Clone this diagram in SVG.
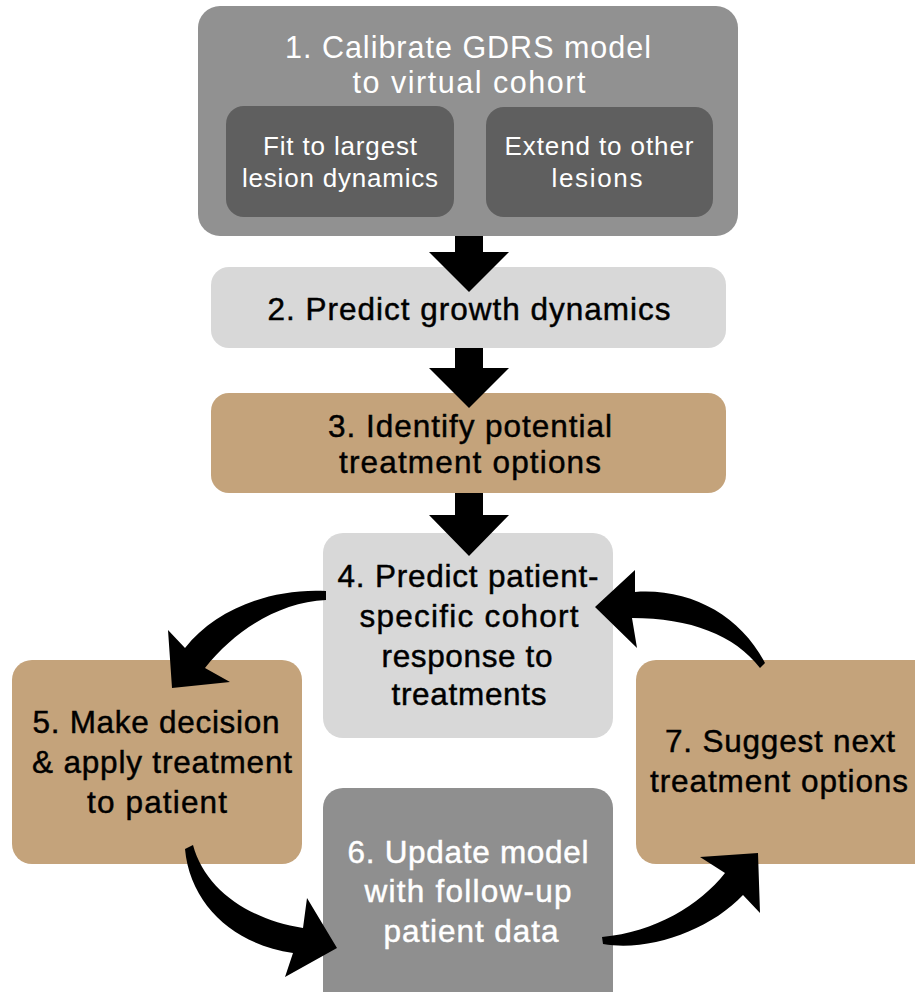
<svg xmlns="http://www.w3.org/2000/svg" width="915" height="992" viewBox="0 0 915 992">
<style>
text{font-family:"Liberation Sans",Arial,Helvetica,sans-serif;text-anchor:middle}
.t1{font-size:30.5px;fill:#fff}
.ti{font-size:26px;fill:#fff}
.m{font-size:31.5px;fill:#000;stroke:#000;stroke-width:0.45}
.mw{font-size:31.5px;fill:#fff;stroke:#fff;stroke-width:0.45}
.tan{fill:#c4a37b}
.lg{fill:#d8d8d8}
.arr{fill:#000}
</style>
<rect width="915" height="992" fill="#fff"/>
<g id="node1">
<rect x="198" y="6" width="540" height="230" rx="22" fill="#919191"/>
<text class="t1" x="468" y="58" textLength="366" lengthAdjust="spacing">1. Calibrate GDRS model</text>
<text class="t1" x="469" y="93" textLength="233" lengthAdjust="spacing">to virtual cohort</text>
</g>
<g id="node1a">
<rect x="226" y="106" width="228" height="111" rx="18" fill="#5f5f5f"/>
<text class="ti" x="340" y="155" textLength="154" lengthAdjust="spacing">Fit to largest</text>
<text class="ti" x="340" y="187" textLength="196" lengthAdjust="spacing">lesion dynamics</text>
</g>
<g id="node1b">
<rect x="486" y="107" width="227" height="110" rx="18" fill="#5f5f5f"/>
<text class="ti" x="599" y="155" textLength="189" lengthAdjust="spacing">Extend to other</text>
<text class="ti" x="597" y="187" textLength="91" lengthAdjust="spacing">lesions</text>
</g>
<g id="node2">
<rect class="lg" x="211" y="267" width="515" height="81" rx="18"/>
<text class="m" x="469" y="320" textLength="403" lengthAdjust="spacing">2. Predict growth dynamics</text>
</g>
<g id="node3">
<rect class="tan" x="211" y="393" width="515" height="100" rx="18"/>
<text class="m" x="470" y="437" textLength="284" lengthAdjust="spacing">3. Identify potential</text>
<text class="m" x="470" y="473" textLength="262" lengthAdjust="spacing">treatment options</text>
</g>
<g id="node4">
<rect class="lg" x="323" y="533" width="290" height="205" rx="20"/>
<text class="m" x="468" y="587" textLength="261" lengthAdjust="spacing">4. Predict patient-</text>
<text class="m" x="469" y="627" textLength="219" lengthAdjust="spacing">specific cohort</text>
<text class="m" x="467" y="667" textLength="171" lengthAdjust="spacing">response to</text>
<text class="m" x="469" y="705" textLength="155" lengthAdjust="spacing">treatments</text>
</g>
<g id="node5">
<rect class="tan" x="12" y="660" width="290" height="204" rx="20"/>
<text class="m" x="156" y="733" textLength="247" lengthAdjust="spacing">5. Make decision</text>
<text class="m" x="162" y="773" textLength="260" lengthAdjust="spacing">&amp; apply treatment</text>
<text class="m" x="157" y="813" textLength="140" lengthAdjust="spacing">to patient</text>
</g>
<g id="node6">
<rect x="323" y="788" width="290" height="240" rx="20" fill="#8f8f8f"/>
<text class="mw" x="468" y="863" textLength="241" lengthAdjust="spacing">6. Update model</text>
<text class="mw" x="468" y="902" textLength="207" lengthAdjust="spacing">with follow-up</text>
<text class="mw" x="471" y="942" textLength="175" lengthAdjust="spacing">patient data</text>
</g>
<g id="node7">
<rect class="tan" x="636" y="660" width="300" height="204" rx="20"/>
<text class="m" x="780" y="752" textLength="230" lengthAdjust="spacing">7. Suggest next</text>
<text class="m" x="779" y="792" textLength="258" lengthAdjust="spacing">treatment options</text>
</g>
<g id="connectors">
<path class="arr" d="M455,236 H483 V252 H509 L469,292 L429,252 H455 Z"/>
<path class="arr" d="M455,348 H483 V368 H509 L469,408 L429,368 H455 Z"/>
<path class="arr" d="M455,493 H483 V515 H509 L469,556 L429,515 H455 Z"/>
<path class="arr" d="M326,591 C270,588 215,610 185,648 L168,630 L172,688 L230,682 L205,668 C235,630 280,602 326,600 Z"/>
<path class="arr" d="M765,663 C740,615 690,588 635,592 L635,570 L595,607 L637,648 L632,618 C690,618 735,635 760,668 Z"/>
<path class="arr" d="M193,845 C205,890 250,920 303,928 L307,898 L337,948 L285,977 L293,953 C235,945 190,905 185,849 Z"/>
<path class="arr" d="M603,944 C650,952 710,930 743,895 L760,913 L758,853 L700,857 L725,873 C700,905 655,932 602,937 Z"/>
</g>
</svg>
